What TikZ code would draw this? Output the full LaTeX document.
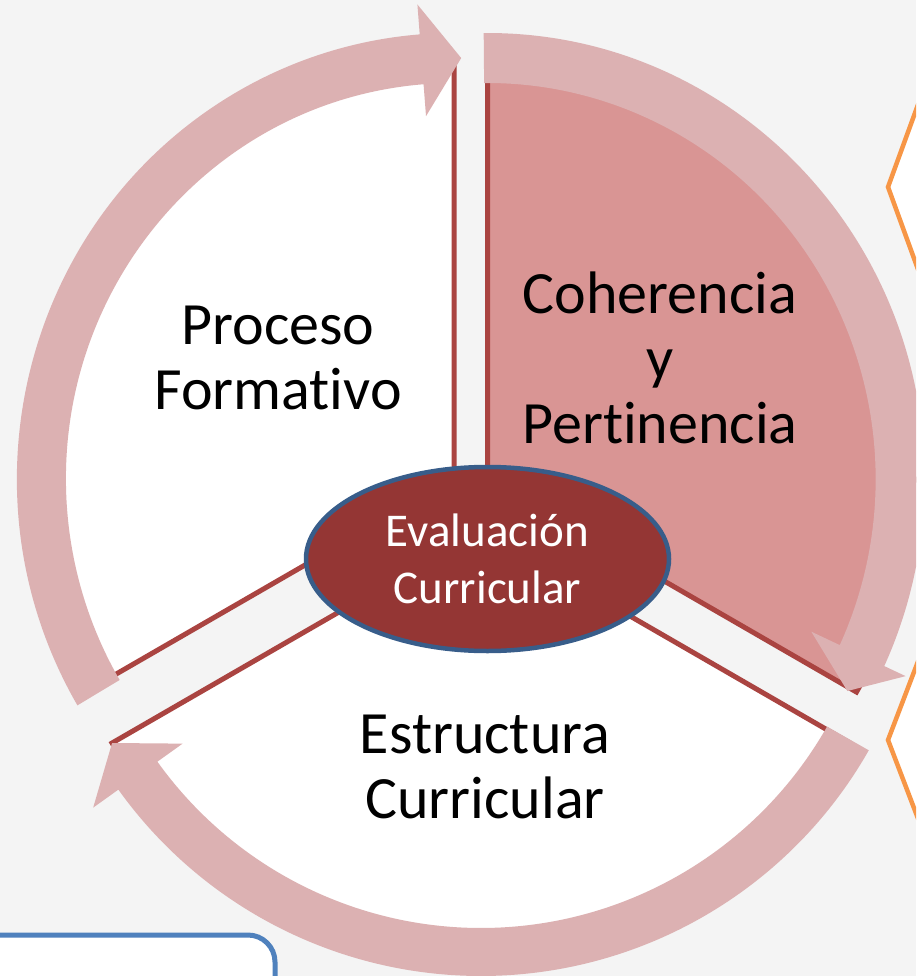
\documentclass[tikz,border=0pt]{standalone}
\usepackage{fontspec}
\setmainfont{Carlito}[Ligatures=NoCommon]
\usetikzlibrary{shapes.geometric}
\definecolor{bgc}{HTML}{F4F4F4}
\definecolor{bandc}{HTML}{DCB1B2}
\definecolor{pinkc}{HTML}{D99594}
\definecolor{linec}{HTML}{AA4441}
\definecolor{ellfill}{HTML}{943634}
\definecolor{ellline}{HTML}{385D8A}
\definecolor{boxblue}{HTML}{4F81BD}
\definecolor{orangec}{HTML}{F79646}
\begin{document}
\begin{tikzpicture}[x=1pt,y=-1pt,
  band/.style={fill=bandc},
  sectw/.style={fill=white,draw=linec,line width=5pt},
  sectp/.style={fill=pinkc,draw=linec,line width=5pt},
  biglbl/.style={font=\fontsize{60}{65}\selectfont,align=center,text=black,inner sep=0pt},
  ell/.style={ellipse,draw=ellline,line width=4.5pt,fill=ellfill,minimum width=363pt,minimum height=184pt,inner sep=0pt,
    font=\fontsize{47}{57}\selectfont,align=center,text=white},
  hexo/.style={draw=orangec,line width=4.5pt,fill=white,line join=miter},
  bluebox/.style={draw=boxblue,line width=5pt,fill=white,rounded corners=27pt}]
\useasboundingbox (0,0) rectangle (916,976);
\clip (0,0) rectangle (916,976);
\fill[bgc] (0,0) rectangle (916,976);

% orange shapes at right edge
\draw[hexo] (935,58) -- (888,187) -- (935,316) -- (1000,316) -- (1000,58) -- cycle;
\draw[hexo] (935,617) -- (888,740) -- (935,863) -- (1000,863) -- (1000,617) -- cycle;

% sectors
\begin{scope}[shift={(454,479)}]
  \coordinate (cl) at (0,0);
  \filldraw[sectw] (0,0) -- (150:420) arc[start angle=150,end angle=270,radius=420] -- cycle;
\end{scope}
\begin{scope}[shift={(487.5,479)}]
  \coordinate (cr) at (0,0);
  \filldraw[sectp] (0,0) -- (270:426) arc[start angle=270,end angle=390,radius=426] -- cycle;
\end{scope}
\begin{scope}[shift={(481,530)}]
  \coordinate (cb) at (0,0);
  \filldraw[sectw] (0,0) -- (30:426) arc[start angle=30,end angle=150,radius=426] -- cycle;
\end{scope}

% circular arrows
\begin{scope}[shift={(454,479)},xscale=0.98]
  \fill[band] (149.5:446) arc[start angle=149.5,end angle=265.5,radius=446] -- (265.5:476) -- (271:421)
    -- (265.5:364) -- (265.5:396) arc[start angle=265.5,end angle=149.5,radius=396] -- cycle;
\end{scope}
\begin{scope}[shift={(487.5,479)},xscale=0.98]
  \fill[band] (269.5:446) arc[start angle=269.5,end angle=384.8,radius=446] -- (384.8:470) -- (390:424)
    -- (384.8:364) -- (384.8:396) arc[start angle=384.8,end angle=269.5,radius=396] -- cycle;
\end{scope}
\begin{scope}[shift={(481,530)}]
  \fill[band] (29.6:446) arc[start angle=29.6,end angle=144.4,radius=446] -- (144.4:477) -- (150:426)
    -- (144.4:367) -- (144.4:398) arc[start angle=144.4,end angle=29.6,radius=398] -- cycle;
\end{scope}

% box at lower left
\draw[bluebox] (-30,935) rectangle (275,1030);

% labels
\node[biglbl] (pf) at (278,357.5) {Proceso\\Formativo};
\node[biglbl] (cp) at (660,357.5) {Coherencia\\y\\Pertinencia};
\node[biglbl] (ec) at (485,766.5) {Estructura\\Curricular};
\node[ell] (ev) at (487.5,559) {Evaluación\\Curricular};
\end{tikzpicture}
\end{document}
